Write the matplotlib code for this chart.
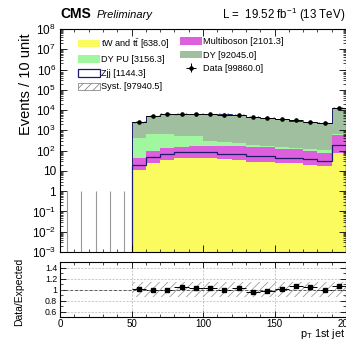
import numpy as np
import matplotlib
matplotlib.use("Agg")
import matplotlib.pyplot as plt
from matplotlib.patches import Patch
from matplotlib.ticker import LogLocator, FuncFormatter, MultipleLocator, FixedLocator

plt.rcParams['font.family'] = ['Liberation Sans', 'DejaVu Sans']
plt.rcParams['mathtext.fontset'] = 'custom'
plt.rcParams['mathtext.rm'] = 'Liberation Sans'
plt.rcParams['mathtext.it'] = 'Liberation Sans:italic'
plt.rcParams['mathtext.bf'] = 'Liberation Sans:bold'
plt.rcParams['hatch.linewidth'] = 0.5

# 10 unit bins, filled from 50 up to 200 (last bin carries the overflow)
edges = np.arange(50, 201, 10)
empty_centers = np.arange(5, 50, 10)
empty_syst = [1.0, 1.0, 1.0, 1.0, 1.0]

tw_tt = [11.2, 25.1, 35.5, 41.7, 44.7, 44.7, 39.8, 35.5, 28.8, 28.8, 24.0, 24.0, 20.0, 17.8, 75.9]
zjj = [8.8, 26.2, 32.1, 39.6, 36.6, 36.6, 29.4, 33.7, 28.7, 28.7, 21.7, 21.7, 18.0, 13.8, 119.1]
multiboson = [22.7, 46.4, 64.2, 77.2, 84.7, 92.5, 104.6, 108.6, 90.4, 90.4, 71.8, 71.8, 53.2, 44.3, 367.0]
dy_pu = [364, 548, 514, 343, 335, 142, 89, 51, 52, 24, 30, 22, 29, 29, 69]
dy = [2068, 4498, 5728, 5631, 6127, 5984, 5855, 5412, 4566, 3913, 3379, 2831, 2451, 2141, 11782]
data = [2512, 5129, 6310, 6457, 6761, 6457, 6026, 5754, 4571, 3981, 3548, 3162, 2692, 2239, 13183]
syst_frac = 0.13

labels = {
    'tw': r'tW and t$\bar{\rm t}$ [638.0]',
    'mb': 'Multiboson [2101.3]',
    'dypu': 'DY PU [3156.3]',
    'dy': 'DY [92045.0]',
    'zjj': 'Zjj [1144.3]',
    'data': 'Data [99860.0]',
    'syst': 'Syst. [97940.5]',
}

c_tw = '#fbfb5f'
c_mb = '#de5fde'
c_dypu = '#a0f7a0'
c_dy = '#9fbf9f'
navy = '#1c1c6a'

centers = 0.5 * (edges[:-1] + edges[1:])
cum = np.cumsum([tw_tt, zjj, multiboson, dy_pu, dy], axis=0)
total = cum[-1]
data = np.array(data, dtype=float)

fig = plt.figure(figsize=(3.46, 3.45), dpi=100)
W, H = 346.0, 345.0
ax = fig.add_axes([60 / W, 1 - 252 / H, 286 / W, 223 / H])
ax2 = fig.add_axes([60 / W, 1 - 317 / H, 286 / W, 55 / H])

base = 1e-4
# stack drawn from the top down, Zjj is hollow so multiboson shows through
ax.stairs(cum[4], edges, baseline=base, fill=True, color=c_dy, lw=0)
ax.stairs(cum[3], edges, baseline=base, fill=True, color=c_dypu, lw=0)
ax.stairs(cum[2], edges, baseline=base, fill=True, color=c_mb, lw=0)
ax.stairs(cum[0], edges, baseline=base, fill=True, color=c_tw, lw=0)
ax.stairs(cum[1], edges, baseline=base, color=navy, lw=0.9)
ax.stairs(total, edges, baseline=base, color=navy, lw=0.7)
ax.stairs(total * (1 + syst_frac), edges, baseline=total * (1 - syst_frac), fill=True,
          facecolor='none', edgecolor='0.5', hatch='////', lw=0)
ax.vlines(empty_centers, 1e-3, empty_syst, color='0.6', lw=0.8)

data_eb = ax.errorbar(centers, data, xerr=5, yerr=np.sqrt(data), fmt='o', color='k',
                      ms=2.3, lw=0.7, capsize=0)

ax.set_yscale('log')
ax.set_xlim(0, 200)
ax.set_ylim(1e-3, 1e8)


def log_label(v, pos):
    n = int(round(np.log10(v)))
    if n == 0:
        return '1'
    if n == 1:
        return '10'
    return r'$10^{%d}$' % n


ax.yaxis.set_major_locator(LogLocator(base=10, numticks=20))
ax.yaxis.set_minor_locator(LogLocator(base=10, subs=np.arange(2, 10), numticks=20))
ax.yaxis.set_major_formatter(FuncFormatter(log_label))
ax.xaxis.set_major_locator(MultipleLocator(50))
ax.xaxis.set_minor_locator(MultipleLocator(10))
ax.tick_params(which='both', direction='in', top=True, right=True, labelbottom=False,
               labelsize=8.5, pad=3)
ax.tick_params(which='major', length=5, width=0.6)
ax.tick_params(which='minor', length=2.5, width=0.5)

# legend in two columns
h_tw = Patch(facecolor=c_tw, lw=0)
h_mb = Patch(facecolor=c_mb, lw=0)
h_dypu = Patch(facecolor=c_dypu, lw=0)
h_dy = Patch(facecolor=c_dy, lw=0)
h_zjj = Patch(facecolor='white', edgecolor=navy, lw=0.9)
h_syst = Patch(facecolor='white', edgecolor='0.45', hatch='////', lw=0.5)
leg_kw = dict(loc='upper left', frameon=False, fontsize=6.6, handlelength=2.4,
              handleheight=0.9, handletextpad=0.15, labelspacing=0.5,
              borderaxespad=0, borderpad=0)
leg1 = ax.legend([h_tw, h_dypu, h_zjj, h_syst],
                 [labels['tw'], labels['dypu'], labels['zjj'], labels['syst']],
                 bbox_to_anchor=(18 / 286, 1 - 8 / 223), **leg_kw)
ax.add_artist(leg1)
ax.legend([h_mb, h_dy, data_eb], [labels['mb'], labels['dy'], labels['data']],
          bbox_to_anchor=(120 / 286, 1 - 8 / 223), **leg_kw)

# ratio panel
ratio = data / total
ratio_err = np.sqrt(data) / total
ax2.stairs(np.full(len(centers), 1 + syst_frac), edges,
           baseline=np.full(len(centers), 1 - syst_frac), fill=True,
           facecolor='none', edgecolor='0.55', hatch='////', lw=0)
ax2.errorbar(centers, ratio, xerr=5, yerr=ratio_err, fmt='s', color='k', ms=2.3,
             lw=0.7, capsize=0)
ax2.set_xlim(0, 200)
ax2.set_ylim(0.5, 1.5)
ax2.yaxis.set_major_locator(FixedLocator([0.6, 0.8, 1.0, 1.2, 1.4]))
ax2.yaxis.set_major_formatter(FuncFormatter(lambda v, p: '%g' % v))
ax2.yaxis.set_minor_locator(MultipleLocator(0.1))
ax2.xaxis.set_major_locator(MultipleLocator(50))
ax2.xaxis.set_minor_locator(MultipleLocator(10))
ax2.grid(True, which='major', ls=(0, (3, 2)), lw=0.5, color='0.7')
ax2.axhline(1.0, ls=(0, (3, 2)), lw=0.7, color='0.35')
ax2.tick_params(which='both', direction='in', top=True, right=True, pad=2)
ax2.tick_params(axis='y', labelsize=6.3)
ax2.tick_params(axis='x', labelsize=7, pad=1.5)
ax2.tick_params(which='major', length=4, width=0.6)
ax2.tick_params(which='minor', length=2, width=0.5)
ax2.set_axisbelow(True)

# titles and axis labels
fig.text(60 / W, 1 - 18.5 / H, 'CMS', fontsize=10, weight='bold', va='baseline')
fig.text(97 / W, 1 - 18.5 / H, 'Preliminary', fontsize=8, style='italic', va='baseline')
fig.text(345 / W, 1 - 18.5 / H, r'L =  19.52 fb$^{-1}$ (13 TeV)', fontsize=8.3,
         ha='right', va='baseline')
fig.text(26.5 / W, 1 - 33 / H, 'Events / 10 unit', fontsize=10.5, rotation=90,
         ha='center', va='top')
fig.text(19 / W, 1 - 292 / H, 'Data/Expected', fontsize=7.5, rotation=90,
         ha='center', va='center')
fig.text(345 / W, 1 - 337 / H, r'p$_{\rm T}$ 1st jet', fontsize=7.8, ha='right',
         va='baseline')

fig.savefig('out.png', dpi=100)
